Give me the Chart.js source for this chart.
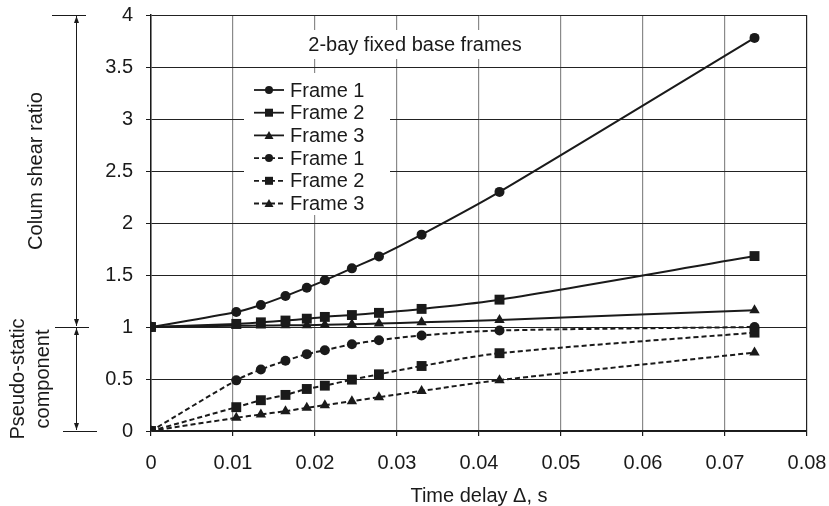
<!DOCTYPE html>
<html>
<head>
<meta charset="utf-8">
<title>Column shear ratio vs time delay</title>
<script src="https://cdn.jsdelivr.net/npm/chart.js@4.4.1/dist/chart.umd.min.js"></script>
<style>
  html, body { margin: 0; padding: 0; background: #fff; }
  #chart { display: block; }
</style>
</head>
<body>
<canvas id="chart" width="829" height="506"></canvas>
<script>
// Time delay (s) shared by all series
const timeDelay = [0, 0.0104, 0.0134, 0.0164, 0.019, 0.0212, 0.0245, 0.0278, 0.033, 0.0425, 0.0736];

// Column shear ratio (solid lines)
const frame1Ratio = [1.0, 1.144, 1.212, 1.298, 1.378, 1.449, 1.564, 1.679, 1.888, 2.299, 3.78];
const frame2Ratio = [1.0, 1.03, 1.045, 1.062, 1.08, 1.097, 1.115, 1.136, 1.174, 1.263, 1.682];
const frame3Ratio = [1.0, 1.012, 1.014, 1.016, 1.018, 1.021, 1.027, 1.033, 1.045, 1.068, 1.162];

// Pseudo-static component (dashed lines)
const frame1Pseudo = [0, 0.487, 0.592, 0.675, 0.739, 0.777, 0.834, 0.873, 0.919, 0.966, 1.0];
const frame2Pseudo = [0, 0.229, 0.296, 0.347, 0.404, 0.436, 0.494, 0.545, 0.625, 0.748, 0.946];
const frame3Pseudo = [0, 0.127, 0.159, 0.191, 0.223, 0.248, 0.287, 0.325, 0.385, 0.489, 0.754];

const seriesNames = ["Frame 1", "Frame 2", "Frame 3", "Frame 1", "Frame 2", "Frame 3"];
const xTicks = [0, 0.01, 0.02, 0.03, 0.04, 0.05, 0.06, 0.07, 0.08];
const yTicks = [0, 0.5, 1, 1.5, 2, 2.5, 3, 3.5, 4];

const FONT = "'Liberation Sans', Arial, sans-serif";
const INK = "#1a1a1a";

function toPoints(values) {
  return values.map((v, i) => ({ x: timeDelay[i], y: v }));
}

function makeDataset(label, values, style, dashed) {
  return {
    label: label,
    data: toPoints(values),
    borderColor: INK,
    backgroundColor: INK,
    borderWidth: 2,
    borderDash: dashed ? [5, 3] : [],
    pointStyle: style,
    pointRadius: style === "rect" ? 7 : (style === "triangle" ? 6 : 5),
    pointBackgroundColor: INK,
    pointBorderColor: INK,
    pointBorderWidth: 0,
    tension: 0.3,
    fill: false
  };
}

// Simple marker drawing for the legend
function drawMarker(ctx, style, x, y) {
  ctx.beginPath();
  if (style === "circle") {
    ctx.arc(x, y, 4, 0, Math.PI * 2);
  } else if (style === "rect") {
    ctx.rect(x - 4, y - 4, 8, 8);
  } else {
    ctx.moveTo(x, y - 4.5);
    ctx.lineTo(x + 4.5, y + 3.5);
    ctx.lineTo(x - 4.5, y + 3.5);
    ctx.closePath();
  }
  ctx.fill();
}

// Arrowhead pointing up or down at (x, y)
function drawArrowHead(ctx, x, y, dir) {
  ctx.beginPath();
  ctx.moveTo(x, y);
  ctx.lineTo(x - 2.5, y - dir * 7);
  ctx.lineTo(x + 2.5, y - dir * 7);
  ctx.closePath();
  ctx.fill();
}

// Title box, in-plot legend and left-hand annotations
const decorPlugin = {
  id: "decor",
  beforeDatasetsDraw(chart) {
    const ctx = chart.ctx;
    ctx.save();

    // Title box
    ctx.fillStyle = "#fff";
    ctx.fillRect(300, 30, 230, 29);
    ctx.fillStyle = INK;
    ctx.font = "20px " + FONT;
    ctx.textAlign = "center";
    ctx.textBaseline = "middle";
    ctx.fillText("2-bay fixed base frames", 415, 45);

    // Legend box
    ctx.fillStyle = "#fff";
    ctx.fillRect(244, 73, 146, 142);
    ctx.textAlign = "left";
    chart.data.datasets.forEach((ds, i) => {
      const y = 90 + i * 22.7;
      ctx.strokeStyle = INK;
      ctx.fillStyle = INK;
      ctx.lineWidth = 1.8;
      ctx.setLineDash(ds.borderDash);
      ctx.beginPath();
      ctx.moveTo(254, y);
      ctx.lineTo(284, y);
      ctx.stroke();
      ctx.setLineDash([]);
      drawMarker(ctx, ds.pointStyle, 269, y);
      ctx.fillText(ds.label, 290, y + 1);
    });
    ctx.restore();
  },
  afterDraw(chart) {
    const ctx = chart.ctx;
    const yScale = chart.scales.y;
    const yTop = yScale.getPixelForValue(4);
    const yOne = yScale.getPixelForValue(1);
    const yZero = yScale.getPixelForValue(0);
    const ax = 76;

    ctx.save();
    ctx.strokeStyle = INK;
    ctx.fillStyle = INK;
    ctx.lineWidth = 1;

    // Horizontal limit lines
    ctx.beginPath();
    ctx.moveTo(52, yTop + 0.5); ctx.lineTo(86, yTop + 0.5);
    ctx.moveTo(55, yOne + 0.5); ctx.lineTo(89, yOne + 0.5);
    ctx.moveTo(63, yZero + 0.5); ctx.lineTo(97, yZero + 0.5);
    // Vertical dimension lines
    ctx.moveTo(ax + 0.5, yTop + 1); ctx.lineTo(ax + 0.5, yOne - 1);
    ctx.moveTo(ax + 0.5, yOne + 1); ctx.lineTo(ax + 0.5, yZero - 1);
    ctx.stroke();

    drawArrowHead(ctx, ax + 0.5, yTop + 1, -1);
    drawArrowHead(ctx, ax + 0.5, yOne - 1, 1);
    drawArrowHead(ctx, ax + 0.5, yOne + 1, -1);
    drawArrowHead(ctx, ax + 0.5, yZero - 1, 1);

    // Rotated labels
    ctx.font = "20px " + FONT;
    ctx.textAlign = "center";
    ctx.textBaseline = "middle";
    ctx.save();
    ctx.translate(36, (yTop + yOne) / 2);
    ctx.rotate(-Math.PI / 2);
    ctx.fillText("Colum shear ratio", 0, 0);
    ctx.restore();

    ctx.save();
    ctx.translate(18, (yOne + yZero) / 2);
    ctx.rotate(-Math.PI / 2);
    ctx.fillText("Pseudo-static", 0, 0);
    ctx.restore();

    ctx.save();
    ctx.translate(43, (yOne + yZero) / 2);
    ctx.rotate(-Math.PI / 2);
    ctx.fillText("component", 0, 0);
    ctx.restore();

    ctx.restore();
  }
};

function formatTick(value) {
  return String(parseFloat(Number(value).toFixed(2)));
}

const ctx = document.getElementById("chart").getContext("2d");

new Chart(ctx, {
  type: "line",
  data: {
    datasets: [
      makeDataset(seriesNames[0], frame1Ratio, "circle", false),
      makeDataset(seriesNames[1], frame2Ratio, "rect", false),
      makeDataset(seriesNames[2], frame3Ratio, "triangle", false),
      makeDataset(seriesNames[3], frame1Pseudo, "circle", true),
      makeDataset(seriesNames[4], frame2Pseudo, "rect", true),
      makeDataset(seriesNames[5], frame3Pseudo, "triangle", true)
    ]
  },
  options: {
    responsive: false,
    animation: false,
    layout: {
      padding: { top: 15, right: 22, left: 0, bottom: 0 }
    },
    plugins: {
      legend: { display: false },
      tooltip: { enabled: false }
    },
    scales: {
      x: {
        type: "linear",
        min: 0,
        max: 0.08,
        afterBuildTicks: scale => {
          scale.ticks = xTicks.map(v => ({ value: v }));
        },
        afterFit: scale => {
          scale.height = 75;
          scale.paddingLeft = 0;
          scale.paddingRight = 0;
        },
        ticks: {
          callback: formatTick,
          color: INK,
          font: { family: FONT, size: 20 },
          padding: 15,
          maxRotation: 0
        },
        grid: {
          color: ctx2 => (ctx2.tick && ctx2.tick.value === 0.08 ? "#222" : "#8a8a8a"),
          lineWidth: 1.2,
          tickColor: INK,
          tickLength: 5
        },
        border: { color: INK, width: 1.5 },
        title: {
          display: true,
          text: "Time delay \u0394, s",
          color: INK,
          font: { family: FONT, size: 20, lineHeight: 1 },
          padding: { top: 0, bottom: 0 }
        }
      },
      y: {
        min: 0,
        max: 4,
        afterBuildTicks: scale => {
          scale.ticks = yTicks.map(v => ({ value: v }));
        },
        afterFit: scale => {
          scale.width = 151;
          scale.paddingTop = 0;
          scale.paddingBottom = 0;
        },
        ticks: {
          callback: formatTick,
          color: INK,
          font: { family: FONT, size: 20 },
          padding: 13
        },
        grid: {
          color: "#222",
          lineWidth: 1,
          tickColor: INK,
          tickLength: 5
        },
        border: { color: INK, width: 1.5 }
      }
    }
  },
  plugins: [decorPlugin]
});
</script>
</body>
</html>
